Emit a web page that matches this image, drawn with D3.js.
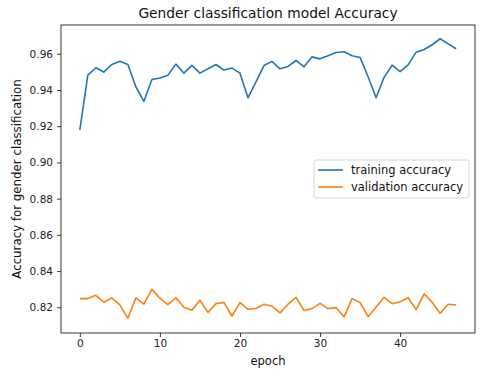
<!DOCTYPE html>
<html><head><meta charset="utf-8">
<script src="https://cdn.jsdelivr.net/npm/d3@7"></script>
<style>body{margin:0;background:#fff}svg{display:block;font-family:"DejaVu Sans",sans-serif}</style>
</head><body>
<svg id="c" width="493" height="377"></svg>
<script>
const epochs = d3.range(0, 48);
const trainingAccuracy = [0.9178,0.9482,0.9523,0.9499,0.9541,0.9559,0.9541,0.9418,0.9337,0.9458,
0.9466,0.9482,0.9543,0.9493,0.9536,0.9493,0.9517,0.9541,0.9510,0.9521,
0.9493,0.9357,0.9445,0.9535,0.9558,0.9517,0.9530,0.9563,0.9528,0.9583,
0.9572,0.9589,0.9607,0.9611,0.9589,0.9580,0.9473,0.9357,0.9470,0.9537,
0.9501,0.9539,0.9609,0.9624,0.9650,0.9683,0.9655,0.9628];
const validationAccuracy = [0.8248,0.8248,0.8266,0.8228,0.8252,0.8213,0.8139,0.8252,0.8217,0.8299,
0.8250,0.8215,0.8252,0.8200,0.8183,0.8239,0.8172,0.8220,0.8226,0.8152,
0.8226,0.8189,0.8193,0.8217,0.8206,0.8169,0.8217,0.8255,0.8182,0.8193,
0.8222,0.8193,0.8198,0.8147,0.8248,0.8226,0.8148,0.8202,0.8255,0.8220,
0.8231,0.8253,0.8187,0.8274,0.8228,0.8167,0.8217,0.8213];
const xTicks = [0,10,20,30,40];
const yTicks = [0.82,0.84,0.86,0.88,0.90,0.92,0.94,0.96];
const seriesNames = ["training accuracy","validation accuracy"];
const colors = ["#1f77b4","#ff7f0e"];

const svg = d3.select("#c");
const L=61, R=475, T=25, B=333;
const x = d3.scaleLinear().domain([-2.35,49.35]).range([L,R]);
const y = d3.scaleLinear().domain([0.8058,0.9759]).range([B,T]);

const line = d3.line().x((d,i)=>x(epochs[i])).y(d=>y(d));
[trainingAccuracy, validationAccuracy].forEach((s,k)=>{
  svg.append("path").datum(s).attr("d",line).attr("fill","none")
    .attr("stroke",colors[k]).attr("stroke-width",1.6).attr("stroke-linejoin","round");
});

const xa = svg.append("g").attr("transform",`translate(0,${B})`)
  .call(d3.axisBottom(x).tickValues(xTicks).tickSize(4).tickPadding(3).tickFormat(d3.format("d")));
const ya = svg.append("g").attr("transform",`translate(${L},0)`)
  .call(d3.axisLeft(y).tickValues(yTicks).tickSize(4).tickPadding(4).tickFormat(d3.format(".2f")));
[xa,ya].forEach(a=>{a.select(".domain").remove();
  a.selectAll("text").attr("font-size",10.5).attr("fill","#222").attr("font-family","DejaVu Sans");
  a.selectAll("line").attr("stroke","#222").attr("stroke-width",0.9);});

svg.append("rect").attr("x",L).attr("y",T).attr("width",R-L).attr("height",B-T)
  .attr("fill","none").attr("stroke","#222").attr("stroke-width",0.9);

svg.append("text").attr("x",(L+R)/2).attr("y",18).attr("text-anchor","middle")
  .attr("font-size",13.8).attr("fill","#111").text("Gender classification model Accuracy");
svg.append("text").attr("x",(L+R)/2).attr("y",365).attr("text-anchor","middle")
  .attr("font-size",11.5).attr("fill","#111").text("epoch");
svg.append("text").attr("transform",`translate(21,${(T+B)/2}) rotate(-90)`).attr("text-anchor","middle")
  .attr("font-size",11.8).attr("fill","#111").text("Accuracy for gender classification");

const lg = svg.append("g");
lg.append("rect").attr("x",314).attr("y",160).attr("width",155).attr("height",38).attr("rx",2)
  .attr("fill","#fff").attr("fill-opacity",0.8).attr("stroke","#ccc").attr("stroke-width",0.8);
seriesNames.forEach((n,k)=>{
  const yy = 170 + k*17;
  lg.append("line").attr("x1",318).attr("x2",343).attr("y1",yy).attr("y2",yy)
    .attr("stroke",colors[k]).attr("stroke-width",1.6);
  lg.append("text").attr("x",351).attr("y",yy+4).attr("font-size",11.5).attr("fill","#111").text(n);
});
</script>
</body></html>
